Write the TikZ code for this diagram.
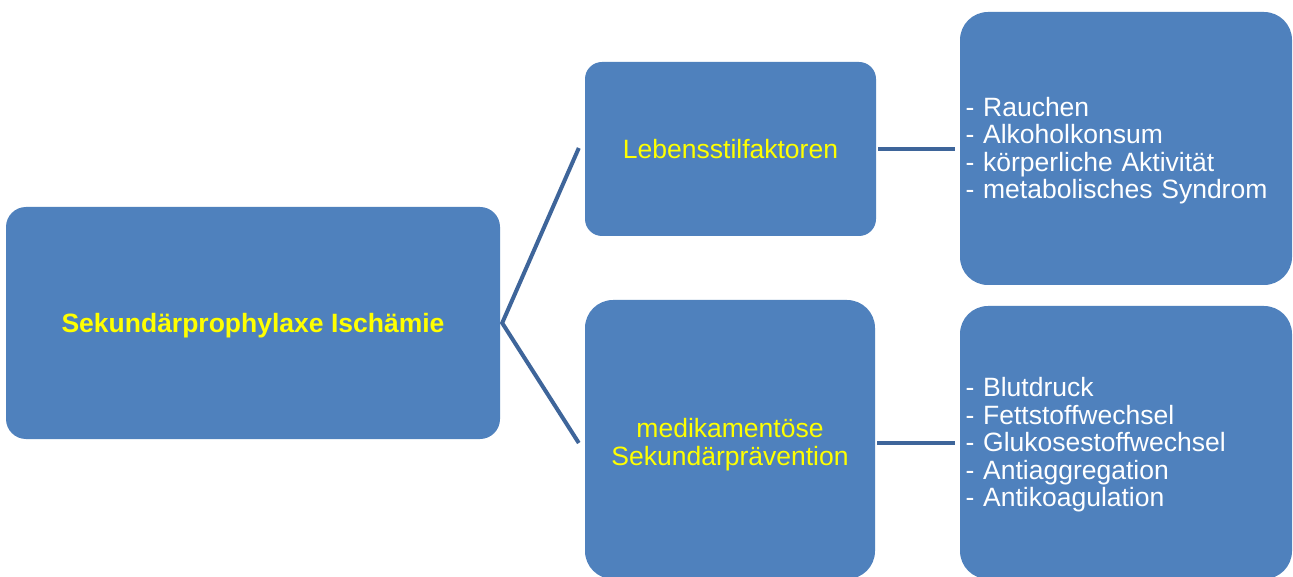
\documentclass[tikz,border=0pt]{standalone}
\usepackage{fontspec}
\setmainfont{Liberation Sans}
\definecolor{boxblue}{RGB}{79,129,189}
\definecolor{linkblue}{RGB}{62,101,154}
\definecolor{txtyellow}{RGB}{255,255,0}
\newcommand\topstrut{\rule{0pt}{0.905em}}
\newcommand\bigtopstrut{\rule{0pt}{\dimexpr0.905em+6pt\relax}}
\newcommand\botstrut{\rule[-0.212em]{0pt}{0pt}}
\tikzset{
  box/.style={rectangle, fill=boxblue, draw=none, inner sep=0pt, align=center,
    font=\fontsize{26.5}{27.5}\selectfont},
  headtext/.style={text=txtyellow},
  listtext/.style={text=white, align=left, inner xsep=5.5pt, text width=321pt},
  link/.style={draw=linkblue, line width=4pt, miter limit=20}
}
\begin{document}
\begin{tikzpicture}[x=1pt, y=-1pt]
\clip (0,0) rectangle (1293,577);
\fill[white] (0,0) rectangle (1293,577);

\node[box, headtext, minimum width=494pt, minimum height=232pt, rounded corners=20pt]
  (root) at (253,323) {\topstrut\bfseries Sekundärprophylaxe Ischämie\botstrut};
\node[box, headtext, minimum width=291pt, minimum height=174pt, rounded corners=17pt]
  (life) at (730.5,149) {\topstrut Lebensstilfaktoren\botstrut};
\node[box, headtext, minimum width=290pt, minimum height=279pt, rounded corners=28pt]
  (med) at (730,439.5) {\bigtopstrut medikamentöse\\Sekundärprävention\botstrut};
\node[box, listtext, minimum width=332pt, minimum height=273pt, rounded corners=28pt]
  (lifeL) at (1126,148.5) {\topstrut- Rauchen\\- Alkoholkonsum\\- körperliche Aktivität\\- metabolisches Syndrom\botstrut};
\node[box, listtext, minimum width=332pt, minimum height=273pt, rounded corners=28pt]
  (medL) at (1126,442.5) {\topstrut- Blutdruck\\- Fettstoffwechsel\\- Glukosestoffwechsel\\- Antiaggregation\\- Antikoagulation\botstrut};

\draw[link] ([xshift=-6pt,yshift=1pt]life.west) -- ([xshift=2pt]root.east) -- ([xshift=-6pt,yshift=-3.5pt]med.west);
\draw[link, shorten <=2pt, shorten >=5pt] (life.east) -- (life.east -| lifeL.west);
\draw[link, shorten <=2pt, shorten >=5pt] (med.east |- medL.west) -- (medL.west);
\end{tikzpicture}
\end{document}
